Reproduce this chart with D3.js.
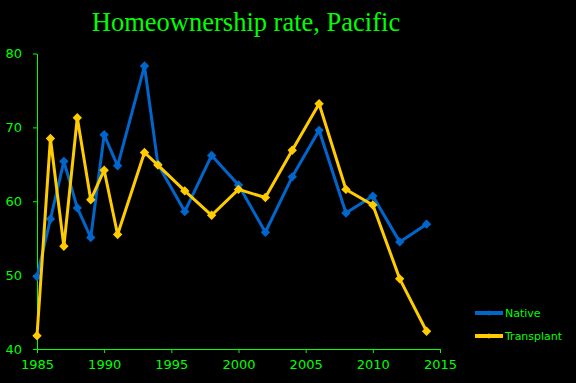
<!DOCTYPE html>
<html lang="en">
<head>
<meta charset="utf-8">
<title>Homeownership rate, Pacific</title>
<script src="https://d3js.org/d3.v7.min.js"></script>
<style>
  body { margin: 0; background: #000; }
  text { fill: #00ff00; }
  .tick text { font-family: "DejaVu Sans", Verdana, sans-serif; font-size: 13px; }
</style>
</head>
<body>
<script>
// values
var years = [1985, 1986, 1987, 1988, 1989, 1990, 1991, 1993, 1994, 1996,
             1998, 2000, 2002, 2004, 2006, 2008, 2010, 2012, 2014];
var native = [49.8, 57.6, 65.4, 59.1, 55.1, 69.0, 64.8, 78.3, 65.0, 58.6,
              66.2, 62.2, 55.8, 63.3, 69.6, 58.4, 60.7, 54.5, 56.9];
var transplant = [41.8, 68.5, 53.9, 71.3, 60.2, 64.2, 55.5, 66.6, 64.9, 61.4,
                  58.1, 61.6, 60.5, 66.9, 73.2, 61.6, 59.5, 49.5, 42.4];
var xTicks = [1985, 1990, 1995, 2000, 2005, 2010, 2015];
var yTicks = [40, 50, 60, 70, 80];
var seriesNames = ['Native', 'Transplant'];
var colors = ['#0066cc', '#ffcc00'];

var width = 576, height = 383;
var svg = d3.select('body').append('svg')
    .attr('width', width)
    .attr('height', height);

svg.append('rect').attr('width', width).attr('height', height).attr('fill', '#000');

var x = d3.scaleLinear().domain([1985, 2015]).range([37, 440]);
var y = d3.scaleLinear().domain([40, 80]).range([349, 53.5]);

svg.append('text')
    .attr('x', 246)
    .attr('y', 31)
    .attr('text-anchor', 'middle')
    .style('font-family', '"Liberation Serif", "DejaVu Serif", serif')
    .style('font-size', '26.5px')
    .text('Homeownership rate, Pacific');

svg.append('g')
    .attr('transform', 'translate(0,349)')
    .call(d3.axisBottom(x).tickValues(xTicks).tickFormat(d3.format('d'))
        .tickSize(4).tickPadding(7).tickSizeOuter(0));
svg.append('g')
    .attr('transform', 'translate(37,0)')
    .call(d3.axisLeft(y).tickValues(yTicks).tickSize(4).tickPadding(11).tickSizeOuter(0));
svg.selectAll('.domain, .tick line').attr('stroke', '#00ff00').attr('stroke-width', 1);

var series = [native, transplant];
var line = d3.line().x(function (d, i) { return x(years[i]); }).y(function (d) { return y(d); });
// square turned 45 degrees, as wide as it is tall
var marker = d3.symbol().type(d3.symbolSquare).size(44);

series.forEach(function (vals, k) {
  svg.append('path')
      .datum(vals)
      .attr('d', line)
      .attr('fill', 'none')
      .attr('stroke', colors[k])
      .attr('stroke-width', 3)
      .attr('stroke-linejoin', 'round');
  svg.selectAll('.pt' + k)
      .data(vals)
      .enter()
      .append('path')
      .attr('class', 'pt' + k)
      .attr('d', marker)
      .attr('transform', function (d, i) { return 'translate(' + x(years[i]) + ',' + y(d) + ') rotate(45)'; })
      .attr('fill', colors[k]);
});

// legend
var legend = svg.append('g');
seriesNames.forEach(function (name, k) {
  var ly = 313 + k * 23;
  legend.append('line')
      .attr('x1', 475).attr('x2', 503)
      .attr('y1', ly).attr('y2', ly)
      .attr('stroke', colors[k]).attr('stroke-width', 4);
  legend.append('path')
      .attr('d', d3.symbol().type(d3.symbolSquare).size(14))
      .attr('transform', 'translate(489,' + ly + ') rotate(45)')
      .attr('fill', colors[k]);
  legend.append('text')
      .attr('x', 505)
      .attr('y', ly + 4)
      .style('font-family', '"DejaVu Sans", Verdana, sans-serif')
      .style('font-size', '11px')
      .text(name);
});
</script>
</body>
</html>
